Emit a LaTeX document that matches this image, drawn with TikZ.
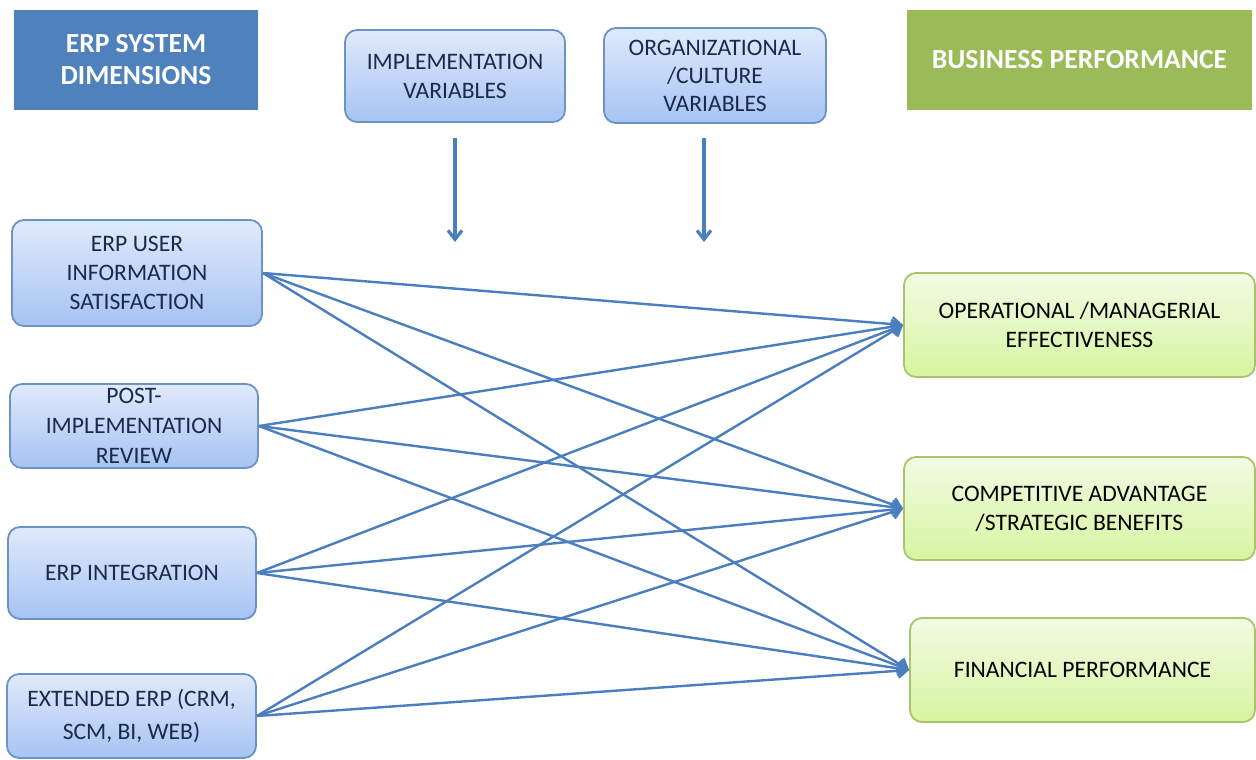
\documentclass[tikz,border=0pt]{standalone}
\usepackage{fontspec}
\setmainfont{Carlito}
\usetikzlibrary{arrows.meta}
\definecolor{hdrblue}{HTML}{4F81BD}
\definecolor{hdrgreen}{HTML}{9BBB59}
\definecolor{edgeblue}{HTML}{6C93C8}
\definecolor{edgegreen}{HTML}{A9C46C}
\definecolor{bluetop}{HTML}{E0EAFB}
\definecolor{bluebot}{HTML}{A6C3F3}
\definecolor{greentop}{HTML}{F2FBE4}
\definecolor{greenbot}{HTML}{D6F5A0}
\definecolor{navytext}{HTML}{1B2A48}
\definecolor{linkblue}{HTML}{4A7EBF}
\tikzset{
  header/.style={rectangle, inner sep=0pt, text=white, align=center,
    font=\bfseries\fontsize{13.8}{16}\selectfont},
  bluebox/.style={rectangle, rounded corners=6pt, draw=edgeblue, line width=0.9pt,
    top color=bluetop, bottom color=bluebot, inner sep=0pt, align=center,
    text=navytext, font=\fontsize{11.8}{14.5}\selectfont},
  greenbox/.style={rectangle, rounded corners=6pt, draw=edgegreen, line width=0.9pt,
    top color=greentop, bottom color=greenbot, inner sep=0pt, align=center,
    text=black, font=\fontsize{11.8}{14.5}\selectfont},
  link/.style={draw=linkblue, line width=1.2pt,
    -{Straight Barb[length=4.5pt,width=7pt,line width=1.2pt]}},
  influence/.style={draw=linkblue, line width=1.6pt,
    -{Straight Barb[length=4.5pt,width=7pt,line width=1.6pt]}}
}
\begin{document}
\begin{tikzpicture}[x=0.5pt, y=-0.5pt]
\useasboundingbox (0,0) rectangle (1256,759);

% column headers
\node[header, fill=hdrblue, minimum width=122pt, minimum height=50pt] (hdrL) at (136,60)
  {ERP SYSTEM\\DIMENSIONS};
\node[header, fill=hdrgreen, minimum width=172.5pt, minimum height=50pt] (hdrR) at (1079.5,60)
  {BUSINESS PERFORMANCE};

% moderating variables
\node[bluebox, minimum width=110pt, minimum height=46pt] (impl) at (455,76)
  {IMPLEMENTATION\\VARIABLES};
\node[bluebox, minimum width=111pt, minimum height=47.5pt, font=\fontsize{11.8}{14}\selectfont] (org) at (715,75.5)
  {ORGANIZATIONAL\\/CULTURE\\VARIABLES};

\coordinate (implA) at (455,138);
\coordinate (implB) at (455,242);
\coordinate (orgA) at (704,138);
\coordinate (orgB) at (704,242);
\draw[influence] (implA) -- (implB);
\draw[influence] (orgA) -- (orgB);

% ERP system dimensions
\node[bluebox, minimum width=125pt, minimum height=53pt] (l1) at (137,273)
  {ERP USER\\INFORMATION\\SATISFACTION};
\node[bluebox, minimum width=124pt, minimum height=42pt, font=\fontsize{11.8}{15}\selectfont] (l2) at (134,426)
  {POST-\\IMPLEMENTATION\\REVIEW};
\node[bluebox, minimum width=124pt, minimum height=46pt] (l3) at (132,573)
  {ERP INTEGRATION};
\node[bluebox, minimum width=124.5pt, minimum height=42pt, font=\fontsize{11.8}{16.5}\selectfont] (l4) at (131.5,716)
  {EXTENDED ERP (CRM,\\SCM, BI, WEB)};

% business performance outcomes
\node[greenbox, minimum width=175.5pt, minimum height=52pt] (r1) at (1079.5,325)
  {OPERATIONAL /MANAGERIAL\\EFFECTIVENESS};
\node[greenbox, minimum width=175.5pt, minimum height=51.5pt] (r2) at (1079.5,508.5)
  {COMPETITIVE ADVANTAGE\\/STRATEGIC BENEFITS};
\node[greenbox, minimum width=172.5pt, minimum height=52pt] (r3) at (1082.5,670)
  {FINANCIAL PERFORMANCE};

% every dimension linked to every outcome
\foreach \s in {l1,l2,l3,l4}
  \foreach \t in {r1,r2,r3}
    \draw[link] (\s.east) -- (\t.west);
\end{tikzpicture}
\end{document}
